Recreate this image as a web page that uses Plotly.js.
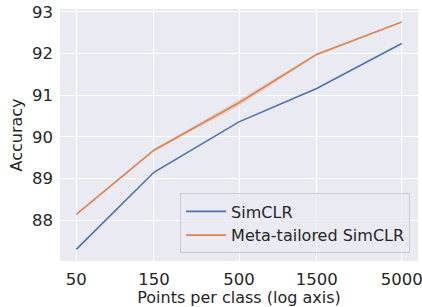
<!DOCTYPE html>
<html>
<head>
<meta charset="utf-8">
<script src="https://cdn.plot.ly/plotly-3.0.1.min.js"></script>
<style>html,body{margin:0;padding:0;background:#fff;}#chart{width:422px;height:307px;}</style>
</head>
<body>
<div id="chart"></div>
<script>
const pointsPerClass = [50, 150, 500, 1500, 5000];
const tickLabels = ["50", "150", "500", "1500", "5000"];
const simclr = [87.30, 89.15, 90.36, 91.16, 92.24];
const metaTailored = [88.14, 89.68, 90.82, 91.98, 92.76];
const metaSpread = [0.02, 0.03, 0.07, 0.03, 0.01];

const upper = metaTailored.map((v, i) => v + metaSpread[i]);
const lower = metaTailored.map((v, i) => v - metaSpread[i]);

const traces = [
  {x: pointsPerClass, y: simclr, mode: 'lines', name: 'SimCLR', line: {color: '#4C72B0', width: 1.6}},
  {x: pointsPerClass, y: upper, mode: 'lines', line: {width: 0, color: '#DD8452'}, showlegend: false, hoverinfo: 'skip'},
  {x: pointsPerClass, y: lower, mode: 'lines', line: {width: 0, color: '#DD8452'}, fill: 'tonexty', fillcolor: 'rgba(221,132,82,0.25)', showlegend: false, hoverinfo: 'skip'},
  {x: pointsPerClass, y: metaTailored, mode: 'lines', name: 'Meta-tailored SimCLR', line: {color: '#DD8452', width: 1.6}}
];

const font = {family: 'DejaVu Sans', size: 16, color: '#262626'};
const tickFont = {family: 'DejaVu Sans', size: 16.5, color: '#262626'};
const layout = {
  width: 422, height: 307,
  margin: {l: 60, r: 4, t: 9, b: 46},
  paper_bgcolor: '#ffffff',
  plot_bgcolor: '#EAEAF2',
  font: font,
  showlegend: true,
  xaxis: {
    type: 'log',
    range: [1.599, 3.799],
    tickvals: pointsPerClass,
    ticktext: tickLabels,
    gridcolor: '#ffffff', gridwidth: 1,
    zeroline: false, showline: false, ticks: '',
    tickfont: tickFont,
    ticklabelstandoff: 6,
    ticklabeloverflow: 'allow',
    title: {text: 'Points per class (log axis)', font: font, standoff: 3}
  },
  yaxis: {
    range: [87.02, 93.07],
    tickvals: [88, 89, 90, 91, 92, 93],
    gridcolor: '#ffffff', gridwidth: 1,
    zeroline: false, showline: false, ticks: '',
    tickfont: tickFont,
    ticklabelstandoff: 6,
    title: {text: 'Accuracy', font: font, standoff: 5}
  },
  legend: {
    x: 0.978, y: 0.03, xanchor: 'right', yanchor: 'bottom',
    traceorder: 'normal',
    bgcolor: 'rgba(234,234,242,0.8)', bordercolor: '#cccccc', borderwidth: 1,
    font: font, tracegroupgap: 0, itemwidth: 40
  }
};

Plotly.newPlot('chart', traces, layout, {displayModeBar: false, staticPlot: true});
</script>
</body>
</html>
